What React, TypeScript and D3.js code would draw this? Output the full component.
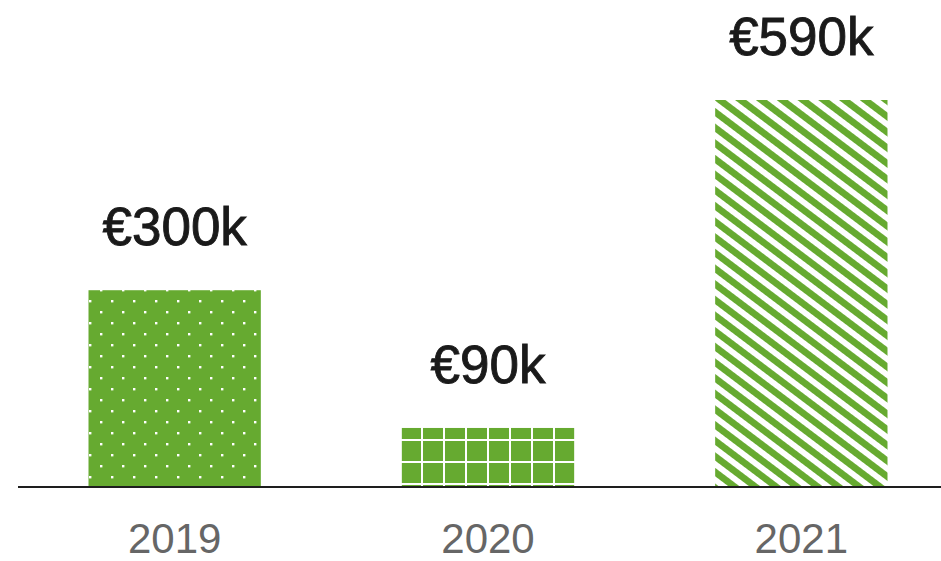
import React from "react";
import { scaleBand, scaleLinear } from "d3";

// values in thousands of euro
const years = ["2019", "2020", "2021"];
const amounts = [300, 90, 590];
const valueLabels = ["€300k", "€90k", "€590k"];
const patterns = ["dots", "grid", "stripes"];

const W = 941;
const H = 561;
const baseY = 487;
const green = "#66aa30";

export default function App() {
  const x = scaleBand<string>()
    .domain(years)
    .range([18, 958])
    .paddingInner(0.45)
    .paddingOuter(0.225);

  // 590k -> ~387px tall
  const y = scaleLinear().domain([0, 590]).range([baseY, 100]);

  return (
    <svg
      width={W}
      height={H}
      style={{ position: "absolute", left: 0, top: 0, background: "#fff" }}
    >
      <defs>
        {/* dotted, offset rows */}
        <pattern id="dots" patternUnits="userSpaceOnUse" width={22} height={22} x={89} y={300}>
          <rect width={22} height={22} fill={green} />
          <rect x={0} y={0} width={2.4} height={2.4} fill="#fff" />
          <rect x={11} y={11} width={2.4} height={2.4} fill="#fff" />
        </pattern>
        {/* square grid */}
        <pattern id="grid" patternUnits="userSpaceOnUse" width={22} height={22} x={421} y={439}>
          <rect width={22} height={22} fill="#fff" />
          <rect x={2} y={2} width={20} height={20} fill={green} />
        </pattern>
        {/* diagonal stripes */}
        <pattern
          id="stripes"
          patternUnits="userSpaceOnUse"
          width={12.5}
          height={12.5}
          patternTransform="rotate(37)"
        >
          <rect width={12.5} height={12.5} fill={green} />
          <rect y={0} width={12.5} height={5.8} fill="#fff" />
        </pattern>
      </defs>

      {years.map((yr, i) => (
        <rect
          key={yr}
          x={x(yr)}
          y={y(amounts[i])}
          width={x.bandwidth()}
          height={baseY - y(amounts[i])}
          fill={`url(#${patterns[i]})`}
        />
      ))}

      <line x1={18} x2={W} y1={baseY} y2={baseY} stroke="#1e1e1e" strokeWidth={2.2} />

      {years.map((yr, i) => (
        <text
          key={"v" + yr}
          x={x(yr)! + x.bandwidth() / 2}
          y={y(amounts[i]) - 45}
          textAnchor="middle"
          fontFamily="'Liberation Sans', Arial, sans-serif"
          fontSize={53}
          fill="#1a1a1a"
          stroke="#1a1a1a"
          strokeWidth={0.9}
        >
          {valueLabels[i]}
        </text>
      ))}

      {years.map((yr) => (
        <text
          key={"y" + yr}
          x={x(yr)! + x.bandwidth() / 2}
          y={553}
          textAnchor="middle"
          fontFamily="'Liberation Sans', Arial, sans-serif"
          fontSize={42}
          fill="#666"
        >
          {yr}
        </text>
      ))}
    </svg>
  );
}
